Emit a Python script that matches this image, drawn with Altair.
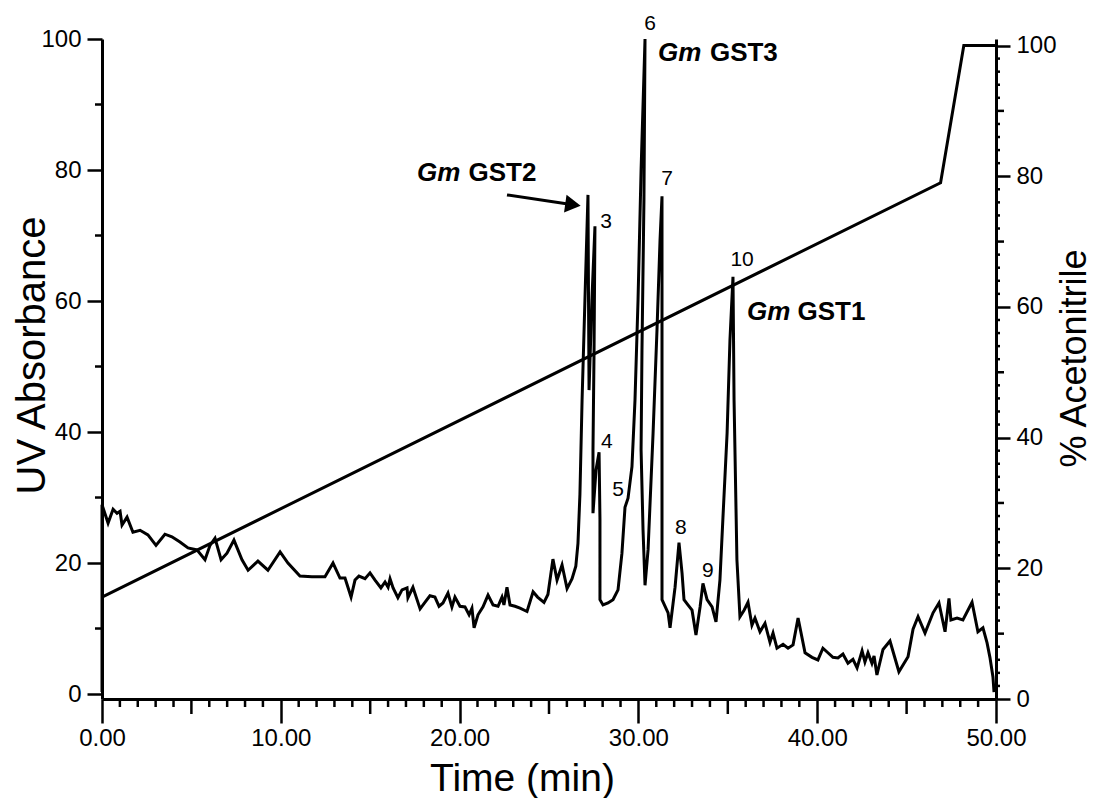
import altair as alt
import pandas as pd

# ---------------- data ----------------
time_min = [0.00, 0.00, 0.34, 0.62, 0.84, 1.01, 1.12, 1.40, 1.73, 2.13, 2.57, 3.02, 3.52, 3.91, 4.36,
            4.81, 5.31, 5.76, 6.04, 6.32, 6.66, 6.99, 7.38, 7.83, 8.17, 8.72, 9.28, 9.96, 10.40, 11.07,
            11.74, 12.47, 12.92, 13.31, 13.59, 13.93, 14.15, 14.37, 14.71, 14.99, 15.27, 15.60, 15.83,
            16.00, 16.11, 16.28, 16.55, 16.78, 17.06, 17.11, 17.39, 17.79, 18.06, 18.34, 18.62, 18.85,
            19.07, 19.35, 19.57, 19.74, 20.02, 20.30, 20.53, 20.69, 20.81, 21.03, 21.31, 21.59, 21.87,
            22.15, 22.37, 22.48, 22.65, 22.82, 23.10, 23.38, 23.77, 24.11, 24.36, 24.72, 24.94, 25.22,
            25.45, 25.73, 26.01, 26.29, 26.50, 26.62, 26.73, 26.85, 27.01, 27.18, 27.21, 27.24, 27.40,
            27.57, 27.52, 27.46, 27.46, 27.63, 27.80, 27.85, 27.85, 28.02, 28.30, 28.58, 28.86, 29.08,
            29.25, 29.42, 29.64, 29.81, 29.98, 30.15, 30.37, 30.31, 30.20, 30.15, 30.26, 30.37, 30.54,
            30.82, 31.04, 31.21, 31.32, 31.32, 31.32, 31.32, 31.66, 31.77, 32.05, 32.27, 32.44, 32.55,
            32.77, 33.00, 33.22, 33.45, 33.61, 33.84, 34.12, 34.34, 34.56, 34.73, 34.96, 35.12, 35.29,
            35.35, 35.51, 35.68, 35.91, 36.13, 36.35, 36.52, 36.80, 37.08, 37.36, 37.53, 37.75, 38.09,
            38.37, 38.65, 38.93, 39.32, 39.71, 40.04, 40.32, 40.60, 40.88, 41.16, 41.44, 41.72, 42.00,
            42.23, 42.51, 42.67, 42.84, 43.06, 43.18, 43.34, 43.68, 44.07, 44.57, 45.08, 45.36, 45.64,
            46.03, 46.48, 46.81, 47.15, 47.37, 47.48, 47.82, 48.15, 48.66, 48.99, 49.27, 49.50, 49.66,
            49.83, 49.89]
uv_abs = [0.3, 28.9, 26.1, 28.2, 27.6, 27.9, 25.8, 27.0, 24.7, 25.0, 24.3, 22.7, 24.4, 24.0, 23.2,
          22.3, 22.0, 20.5, 22.7, 23.8, 20.5, 21.5, 23.5, 20.5, 18.9, 20.3, 18.9, 21.7, 20.0, 18.0,
          17.9, 17.9, 20.0, 17.7, 17.7, 14.8, 17.4, 18.0, 17.6, 18.5, 17.4, 16.2, 17.1,
          16.3, 17.6, 16.2, 14.7, 15.9, 16.2, 14.7, 16.3, 13.0, 14.0, 15.0, 14.8, 13.4,
          13.9, 15.4, 13.3, 14.8, 13.4, 13.3, 12.1, 13.1, 10.1, 12.1, 13.3, 15.1, 13.6,
          13.4, 14.8, 13.6, 16.3, 13.6, 13.4, 13.1, 12.6, 15.6, 14.8, 14.0, 15.2, 20.6,
          17.4, 19.7, 16.1, 17.6, 19.5, 23.0, 30.5, 44.9, 60.2, 76.2, 60.2, 46.4, 60.2,
          71.4, 52.5, 37.3, 27.6, 34.2, 36.9, 26.6, 14.4, 13.6, 13.9, 14.4, 15.9, 21.5,
          28.5, 29.9, 34.7, 44.9, 60.2, 80.0, 100.0, 75.4, 52.5, 37.3, 25.0, 16.6, 22.0,
          39.8, 55.6, 69.3, 76.0, 52.5, 37.3, 14.4, 12.4, 10.1, 16.3, 23.1, 18.5, 14.4,
          13.6, 12.8, 9.0, 13.3, 16.9, 14.4, 13.3, 11.0, 17.4, 27.0, 39.8, 54.0, 63.7,
          44.9, 20.5, 11.8, 12.8, 14.0, 10.5, 11.6, 9.5, 10.8, 7.9, 9.3, 7.0, 7.6,
          7.0, 7.5, 11.6, 6.3, 5.6, 5.2, 7.0, 6.3, 5.6, 5.5, 6.1, 4.7, 5.3,
          4.0, 6.6, 4.9, 6.3, 4.7, 5.8, 2.9, 6.8, 8.1, 3.4, 5.7, 9.9, 11.8,
          9.3, 12.4, 13.9, 9.5, 14.6, 11.3, 11.6, 11.3, 14.0, 9.5, 10.1, 7.8, 5.6,
          2.6, 0.3]

grad_time = [0.0, 46.9, 48.2, 50.0]
grad_acn = [15.6, 79.0, 100.0, 100.0]

x_major = [0, 10, 20, 30, 40, 50]
x_mid = [5, 15, 25, 35, 45]
x_minor = [v for v in range(0, 51) if v % 5 != 0]
left_major = [0, 20, 40, 60, 80, 100]
left_minor = [10, 30, 50, 70, 90]
right_major = [0, 20, 40, 60, 80, 100]
right_mid = [10, 30, 50, 70, 90]
right_minor = [v for v in range(0, 101, 2) if v % 10 != 0]

peak_labels = ["3", "4", "5", "6", "7", "8", "9", "10"]
peak_label_t = [28.19, 28.24, 28.86, 30.65, 31.60, 32.38, 33.89, 35.80]
peak_label_uv = [72.1, 38.5, 31.1, 102.3, 78.6, 25.3, 18.8, 66.3]

gst_species = ["Gm", "Gm", "Gm"]
gst_names = ["GST2", "GST3", "GST1"]
gst_species_t = [17.62, 31.10, 36.07]
gst_names_t = [20.50, 34.00, 38.90]
gst_uv = [79.5, 97.9, 58.3]

arrow_t = [22.65]
arrow_uv = [76.2]
arrow_t2 = [26.34]
arrow_uv2 = [74.7]

# ---------------- tables ----------------
df_uv = pd.DataFrame({"t": time_min, "uv": uv_abs, "i": list(range(len(time_min)))})
df_g = pd.DataFrame({"t": grad_time, "acn": grad_acn})
df_pk = pd.DataFrame({"t": peak_label_t, "uv": peak_label_uv, "lab": peak_labels})
df_sp = pd.DataFrame({"t": gst_species_t, "uv": gst_uv, "lab": gst_species})
df_nm = pd.DataFrame({"t": gst_names_t, "uv": gst_uv, "lab": gst_names})
df_ar = pd.DataFrame({"t": arrow_t, "uv": arrow_uv, "t2": arrow_t2, "uv2": arrow_uv2})

W, H = 894, 660
FONT = "Liberation Sans"
XS = alt.Scale(domain=[0, 50], nice=False, zero=False)
YL = alt.Scale(domain=[-0.76, 100], nice=False, zero=False)
YR = alt.Scale(domain=[0, 101], nice=False, zero=False)
TICK_W = 2.5

ax_x = alt.Axis(orient="bottom", values=x_major, format=".2f", tickSize=24, labelFontSize=24,
                labelPadding=3, labelFlush=False, labelOverlap=False, grid=False,
                title="Time (min)", titleFontSize=39, titleFontWeight="normal",
                titleX=420, titleY=91, titleAlign="center", titleBaseline="alphabetic")
ax_left = alt.Axis(orient="left", values=left_major, tickSize=15, labelFontSize=24,
                   labelPadding=6, grid=False, title="UV Absorbance", titleFontSize=40,
                   titleFontWeight="normal", titleAngle=270, titleX=-70, titleY=316,
                   titleAlign="center", titleBaseline="middle")
ax_right = alt.Axis(orient="right", values=right_major, tickSize=14, labelFontSize=24,
                    labelPadding=6, grid=False, title="% Acetonitrile", titleFontSize=36,
                    titleFontWeight="normal", titleAngle=270, titleX=78, titleY=319,
                    titleAlign="center", titleBaseline="middle")

trace = alt.Chart(df_uv).mark_line(color="black", strokeWidth=3, strokeJoin="miter").encode(
    x=alt.X("t:Q", scale=XS, axis=ax_x),
    y=alt.Y("uv:Q", scale=YL, axis=ax_left),
    order="i:Q",
)
gradient = alt.Chart(df_g).mark_line(color="black", strokeWidth=3).encode(
    x=alt.X("t:Q", scale=XS, axis=None),
    y=alt.Y("acn:Q", scale=YR, axis=ax_right),
)


def x_ticks(vals, length):
    return alt.Chart(pd.DataFrame({"v": vals})).mark_rule(
        color="black", strokeWidth=TICK_W).encode(
        x=alt.X("v:Q", scale=XS, axis=None),
        y=alt.value(H), y2=alt.value(H + length),
    )


def y_ticks(vals, scale, x0, x1):
    return alt.Chart(pd.DataFrame({"v": vals})).mark_rule(
        color="black", strokeWidth=TICK_W).encode(
        y=alt.Y("v:Q", scale=scale, axis=None),
        x=alt.value(x0), x2=alt.value(x1),
    )


ticks_layers = [
    x_ticks(x_mid, 15),
    x_ticks(x_minor, 8),
    y_ticks(left_minor, YL, 0, -7),
    y_ticks(right_mid, YR, W, W + 8),
    y_ticks(right_minor, YR, W, W + 4),
]

peaks = alt.Chart(df_pk).mark_text(font=FONT, fontSize=21, align="center", baseline="middle",
                                   color="black").encode(
    x=alt.X("t:Q", scale=XS, axis=None),
    y=alt.Y("uv:Q", scale=YL, axis=None),
    text="lab:N",
)
species = alt.Chart(df_sp).mark_text(font=FONT, fontSize=26, fontWeight="bold", fontStyle="italic",
                                     align="left", baseline="middle", color="black").encode(
    x=alt.X("t:Q", scale=XS, axis=None),
    y=alt.Y("uv:Q", scale=YL, axis=None),
    text="lab:N",
)
names = alt.Chart(df_nm).mark_text(font=FONT, fontSize=26, fontWeight="bold",
                                   align="left", baseline="middle", color="black").encode(
    x=alt.X("t:Q", scale=XS, axis=None),
    y=alt.Y("uv:Q", scale=YL, axis=None),
    text="lab:N",
)
arrow_line = alt.Chart(df_ar).mark_rule(color="black", strokeWidth=3).encode(
    x=alt.X("t:Q", scale=XS, axis=None),
    y=alt.Y("uv:Q", scale=YL, axis=None),
    x2="t2:Q",
    y2="uv2:Q",
)
arrow_head = alt.Chart(df_ar).mark_point(shape="triangle-right", filled=True, size=320,
                                         color="black", opacity=1, angle=8).encode(
    x=alt.X("t2:Q", scale=XS, axis=None),
    y=alt.Y("uv2:Q", scale=YL, axis=None),
)

chart = alt.layer(
    trace, gradient, *ticks_layers, peaks, species, names, arrow_line, arrow_head
).resolve_scale(y="independent").resolve_axis(x="independent", y="independent").properties(
    width=W, height=H,
    autosize=alt.AutoSizeParams(type="none"),
    padding={"left": 94, "top": 31, "right": 96, "bottom": 99},
).configure_view(stroke=None).configure_axis(
    domainColor="black", tickColor="black", labelColor="black", titleColor="black",
    labelFont=FONT, titleFont=FONT, domainWidth=3, tickWidth=TICK_W, grid=False,
)

chart.save("out.html", embed_options={"renderer": "svg", "actions": False})
